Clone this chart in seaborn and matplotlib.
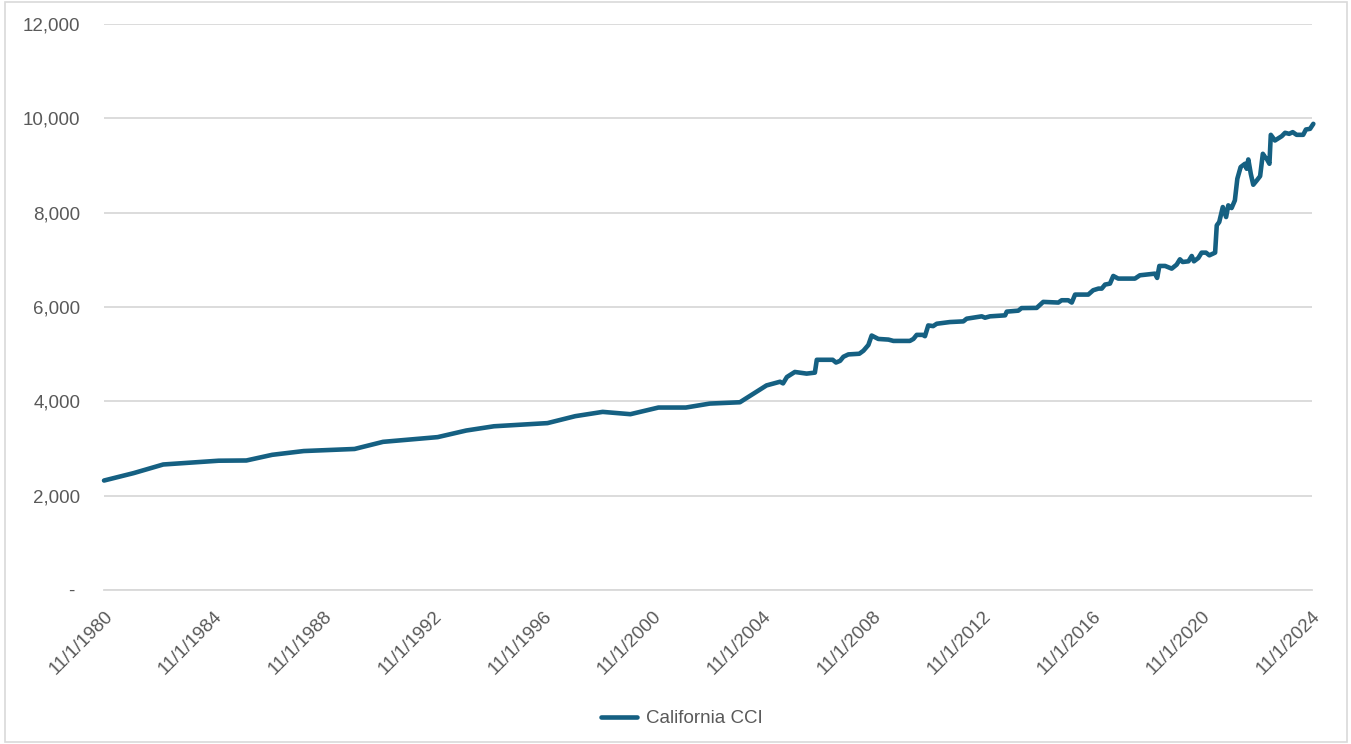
import pandas as pd
import matplotlib.pyplot as plt
from matplotlib.patches import Rectangle
import seaborn as sns

# California CCI (decimal year, index value)
dec_year = [1980.835, 1981.91, 1982.99, 1985.01, 1986.02, 1986.96, 1988.11, 1989.96,
            1991.00, 1992.99, 1994.03, 1995.04, 1996.99, 1998.00, 1999.00, 2000.01,
            2001.03, 2002.03, 2002.90,
            2004.00, 2004.97, 2005.46, 2005.57, 2005.71, 2006.00, 2006.43, 2006.73,
            2006.80, 2007.38, 2007.50, 2007.65, 2007.77, 2007.95, 2008.35, 2008.50,
            2008.68, 2008.80, 2009.04, 2009.41, 2009.59, 2010.19, 2010.32, 2010.44,
            2010.66, 2010.74, 2010.86, 2011.04, 2011.17, 2011.65, 2012.14, 2012.26,
            2012.81, 2012.93, 2013.11, 2013.66, 2013.72, 2014.14, 2014.26, 2014.81,
            2015.05, 2015.60, 2015.72, 2015.96, 2016.09, 2016.21, 2016.69, 2016.87,
            2017.06, 2017.18, 2017.30, 2017.48, 2017.60, 2017.78, 2018.39, 2018.57,
            2019.12, 2019.20, 2019.28, 2019.49, 2019.73, 2019.91, 2020.03, 2020.13,
            2020.34, 2020.46, 2020.54, 2020.70, 2020.82, 2020.98, 2021.10, 2021.31,
            2021.37, 2021.46, 2021.59, 2021.71, 2021.79, 2021.91, 2022.03, 2022.12,
            2022.24, 2022.40, 2022.46, 2022.52, 2022.61, 2022.70, 2022.83, 2022.95,
            2023.05, 2023.13, 2023.19, 2023.29, 2023.34, 2023.49, 2023.74, 2023.86,
            2024.01, 2024.14, 2024.28, 2024.52, 2024.62, 2024.77, 2024.89]
cci = [2320, 2477, 2660, 2740, 2745, 2865, 2945, 2989,
       3140, 3240, 3380, 3470, 3537, 3684, 3775, 3726,
       3867, 3867, 3951,
       3979, 4336, 4414, 4379, 4514, 4621, 4586, 4607,
       4879, 4879, 4821, 4857, 4943, 4993, 5007, 5071,
       5193, 5393, 5321, 5307, 5279, 5279, 5321, 5407,
       5407, 5379, 5607, 5593, 5643, 5679, 5693, 5750,
       5800, 5771, 5800, 5821, 5900, 5920, 5975, 5979,
       6106, 6092, 6141, 6141, 6092, 6261, 6261, 6353,
       6388, 6388, 6473, 6494, 6656, 6600, 6600, 6670,
       6705, 6614, 6868, 6868, 6811, 6896, 7009, 6952,
       6966, 7079, 6966, 7037, 7150, 7150, 7093, 7150,
       7728, 7799, 8116, 7905, 8152, 8095, 8257, 8716,
       8963, 9034, 8928, 9125, 8822, 8589, 8681, 8772,
       9245, 9175, 9139, 9034, 9647, 9527, 9619, 9690,
       9668, 9704, 9647, 9647, 9760, 9774, 9880]

tick_years = [1980, 1984, 1988, 1992, 1996, 2000, 2004, 2008, 2012, 2016, 2020, 2024]
y_ticks = [0, 2000, 4000, 6000, 8000, 10000, 12000]


def to_date(y):
    yi = int(y)
    return pd.Timestamp(yi, 1, 1) + pd.Timedelta(days=(y - yi) * 365.25)


df = pd.DataFrame({"date": [to_date(y) for y in dec_year], "cci": cci})

sns.set_style("white")
plt.rcParams['font.family'] = ['Liberation Sans', 'DejaVu Sans']
grey_text = "#595959"
grid_col = "#d9d9d9"

fig = plt.figure(figsize=(13.51, 7.44), dpi=100)
ax = fig.add_axes([0.077, 0.207, 0.894, 0.761])

sns.lineplot(data=df, x="date", y="cci", ax=ax, color="#156082", linewidth=3.3,
             label="California CCI", clip_on=False)

# axes
ax.set_xlim(pd.Timestamp(1980, 11, 1), pd.Timestamp(2024, 11, 1))
ax.set_ylim(0, 12000)
ax.set_xticks([pd.Timestamp(y, 11, 1) for y in tick_years])
ax.set_xticklabels([f"11/1/{y}" for y in tick_years], rotation=45, ha="right",
                   rotation_mode="anchor")
ax.set_yticks(y_ticks)
ax.set_yticklabels(["- " if v == 0 else f"{v:,}" for v in y_ticks])
ax.set_xlabel("")
ax.set_ylabel("")

ax.grid(axis="y", color=grid_col, linewidth=1.3)
ax.set_axisbelow(True)
for s in ["top", "right", "left"]:
    ax.spines[s].set_visible(False)
ax.spines["bottom"].set_color(grid_col)
ax.spines["bottom"].set_linewidth(1.3)
ax.tick_params(axis="y", length=0, pad=17, labelsize=13.5, labelcolor=grey_text)
ax.tick_params(axis="x", length=6, width=1.3, color=grid_col, pad=7,
               labelsize=13.5, labelcolor=grey_text)

leg = ax.legend(loc="lower center", bbox_to_anchor=(0.505, 0.0),
                bbox_transform=fig.transFigure, frameon=False,
                fontsize=13.5, handlelength=1.9, handletextpad=0.5)
for t in leg.get_texts():
    t.set_color(grey_text)

# chart area border
fig.patches.append(Rectangle((0.004, 0.003), 0.993, 0.994, transform=fig.transFigure,
                             fill=False, edgecolor=grid_col, linewidth=1.2))

fig.savefig("out.png", dpi=100)
